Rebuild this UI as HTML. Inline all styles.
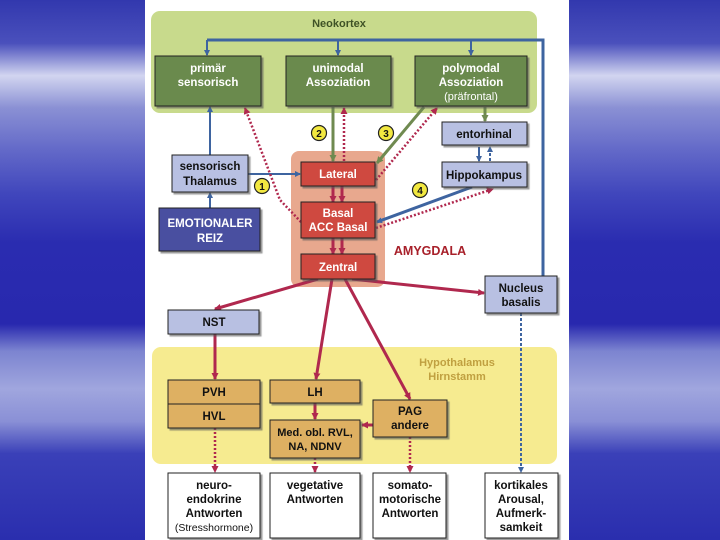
<!DOCTYPE html>
<html><head><meta charset="utf-8"><style>
html,body{margin:0;padding:0;width:720px;height:540px;overflow:hidden}
body{background:linear-gradient(180deg,#3238ae 0%,#4a50bc 8%,#d2d5f0 14%,#8a90d4 20%,#6268c8 28%,#4046bc 36%,#2a2cb0 45%,#2828ae 60%,#7c84d0 65%,#a0a6de 72%,#8a90d6 78%,#3a40b8 84%,#2a2eae 100%)}
svg{position:absolute;left:0;top:0}
text{font-family:"Liberation Sans",sans-serif;font-weight:bold;text-anchor:middle;font-size:11.5px}
</style></head><body>
<svg width="720" height="540" viewBox="0 0 720 540">
<defs>
<marker id="ab" markerWidth="6" markerHeight="6" refX="5" refY="3" orient="auto" markerUnits="userSpaceOnUse"><path d="M0,0L6,3L0,6z" fill="#3e64a0"/></marker>
<marker id="ar" markerWidth="7" markerHeight="7" refX="6" refY="3.5" orient="auto" markerUnits="userSpaceOnUse"><path d="M0,0L7,3.5L0,7z" fill="#b0284e"/></marker>
<marker id="ag" markerWidth="7" markerHeight="7" refX="6" refY="3.5" orient="auto" markerUnits="userSpaceOnUse"><path d="M0,0L7,3.5L0,7z" fill="#6f8a50"/></marker>
<filter id="sh"><feDropShadow dx="2" dy="2" stdDeviation="0.6" flood-color="#555" flood-opacity="0.6"/></filter>
</defs>
<rect x="145" y="0" width="424" height="540" fill="#fff"/>
<rect x="151" y="11" width="386" height="102" rx="9" fill="#c8da8c"/>
<text x="339" y="27" fill="#3f5226" style="font-size:11px">Neokortex</text>
<rect x="152" y="347" width="405" height="117" rx="9" fill="#f6eb90"/>
<text x="457" y="366" fill="#c0a040" style="font-size:11px">Hypothalamus</text>
<text x="457" y="380" fill="#c0a040" style="font-size:11px">Hirnstamm</text>
<rect x="291" y="151" width="94" height="136" rx="8" fill="#e8a88e"/>
<text x="430" y="255" fill="#a8202a" style="font-size:12.5px">AMYGDALA</text>
<path d="M207,40H543V276" fill="none" stroke="#3e64a0" stroke-width="3"/>
<g stroke="#3e64a0" stroke-width="2" marker-end="url(#ab)">
<line x1="207" y1="40" x2="207" y2="55"/><line x1="338" y1="40" x2="338" y2="55"/><line x1="471" y1="40" x2="471" y2="55"/>
<line x1="210" y1="155" x2="210" y2="107"/><line x1="210" y1="208" x2="210" y2="193"/>
<line x1="248" y1="174" x2="300" y2="174"/>
<line x1="479" y1="147" x2="479" y2="161"/>
<line x1="472" y1="187" x2="377" y2="222" stroke-width="3"/>
</g>
<line x1="490" y1="161" x2="490" y2="147" stroke="#3e64a0" stroke-width="2" stroke-dasharray="3,2" marker-end="url(#ab)"/>
<line x1="521" y1="313" x2="521" y2="472" stroke="#3e64a0" stroke-width="2" stroke-dasharray="3,2" marker-end="url(#ab)"/>
<g stroke="#6f8a50" stroke-width="3" marker-end="url(#ag)">
<line x1="333" y1="107" x2="333" y2="161"/>
<line x1="424" y1="107" x2="377" y2="163"/>
<line x1="485" y1="107" x2="485" y2="121"/>
</g>
<g stroke="#b0284e" stroke-width="2.5" stroke-dasharray="2,2" fill="none" marker-end="url(#ar)">
<polyline points="301,222 280,200 245,108"/>
<line x1="344" y1="161" x2="344" y2="108"/>
<line x1="376" y1="180" x2="437" y2="108"/>
<line x1="376" y1="228" x2="493" y2="189"/>
<line x1="215" y1="428" x2="215" y2="472"/>
<line x1="315" y1="458" x2="315" y2="472"/>
<line x1="410" y1="437" x2="410" y2="472"/>
</g>
<g stroke="#b0284e" stroke-width="3" marker-end="url(#ar)">
<line x1="333" y1="186" x2="333" y2="202"/><line x1="342" y1="186" x2="342" y2="202"/>
<line x1="333" y1="238" x2="333" y2="254"/><line x1="342" y1="238" x2="342" y2="254"/>
<line x1="318" y1="279" x2="215" y2="309"/>
<line x1="332" y1="279" x2="316" y2="379"/>
<line x1="345" y1="279" x2="410" y2="399"/>
<line x1="352" y1="279" x2="484" y2="293"/>
<line x1="215" y1="334" x2="215" y2="379"/>
<line x1="315" y1="403" x2="315" y2="419"/>
<line x1="373" y1="425" x2="362" y2="425"/>
</g>
<g filter="url(#sh)" stroke="#222" stroke-width="1">
<rect x="155" y="56" width="106" height="50" fill="#6b8a4e"/>
<rect x="286" y="56" width="105" height="50" fill="#6b8a4e"/>
<rect x="415" y="56" width="112" height="50" fill="#6b8a4e"/>
<rect x="442" y="122" width="85" height="23" fill="#b8c0e2"/>
<rect x="442" y="162" width="85" height="25" fill="#b8c0e2"/>
<rect x="172" y="155" width="76" height="37" fill="#b8c0e2"/>
<rect x="159" y="208" width="101" height="43" fill="#4a4fa0"/>
<rect x="301" y="162" width="74" height="24" fill="#cf4a40"/>
<rect x="301" y="202" width="74" height="36" fill="#cf4a40"/>
<rect x="301" y="254" width="74" height="25" fill="#cf4a40"/>
<rect x="485" y="276" width="72" height="37" fill="#b8c0e2"/>
<rect x="168" y="310" width="91" height="24" fill="#b8c0e2"/>
<rect x="168" y="380" width="92" height="24" fill="#deb062"/>
<rect x="168" y="404" width="92" height="24" fill="#deb062"/>
<rect x="270" y="380" width="90" height="23" fill="#deb062"/>
<rect x="270" y="420" width="90" height="38" fill="#deb062"/>
<rect x="373" y="400" width="74" height="37" fill="#deb062"/>
<rect x="168" y="473" width="92" height="65" fill="#fff"/>
<rect x="270" y="473" width="90" height="65" fill="#fff"/>
<rect x="373" y="473" width="73" height="65" fill="#fff"/>
<rect x="485" y="473" width="73" height="65" fill="#fff"/>
</g>
<g fill="#fff">
<text x="208" y="72">primär</text><text x="208" y="86">sensorisch</text>
<text x="338" y="72">unimodal</text><text x="338" y="86">Assoziation</text>
<text x="471" y="72">polymodal</text><text x="471" y="86">Assoziation</text>
<text x="471" y="100" style="font-weight:normal;font-size:11px">(präfrontal)</text>
<text x="210" y="227">EMOTIONALER</text><text x="210" y="242">REIZ</text>
<text x="338" y="178">Lateral</text>
<text x="338" y="217">Basal</text><text x="338" y="231">ACC Basal</text>
<text x="338" y="271">Zentral</text>
</g>
<g fill="#111">
<text x="484" y="138">entorhinal</text>
<text x="484" y="179">Hippokampus</text>
<text x="210" y="170">sensorisch</text><text x="210" y="185">Thalamus</text>
<text x="521" y="292">Nucleus</text><text x="521" y="306">basalis</text>
<text x="214" y="326">NST</text>
<text x="214" y="396">PVH</text><text x="214" y="420">HVL</text>
<text x="315" y="396">LH</text>
<text x="315" y="436" style="font-size:11px">Med. obl. RVL,</text><text x="315" y="450" style="font-size:11px">NA, NDNV</text>
<text x="410" y="415">PAG</text><text x="410" y="429">andere</text>
<text x="214" y="489">neuro-</text><text x="214" y="503">endokrine</text><text x="214" y="517">Antworten</text>
<text x="214" y="531" style="font-weight:normal;font-size:10.5px">(Stresshormone)</text>
<text x="315" y="489">vegetative</text><text x="315" y="503">Antworten</text>
<text x="410" y="489">somato-</text><text x="410" y="503">motorische</text><text x="410" y="517">Antworten</text>
<text x="521" y="489">kortikales</text><text x="521" y="503">Arousal,</text><text x="521" y="517">Aufmerk-</text><text x="521" y="531">samkeit</text>
</g>
<g stroke="#222" stroke-width="1.2" fill="#f2e840">
<circle cx="262" cy="186" r="7.5"/><circle cx="319" cy="133" r="7.5"/><circle cx="386" cy="133" r="7.5"/><circle cx="420" cy="190" r="7.5"/>
</g>
<g fill="#111">
<text x="262" y="190" style="font-size:10px">1</text><text x="319" y="137" style="font-size:10px">2</text><text x="386" y="137" style="font-size:10px">3</text><text x="420" y="194" style="font-size:10px">4</text>
</g>
</svg>
</body></html>
